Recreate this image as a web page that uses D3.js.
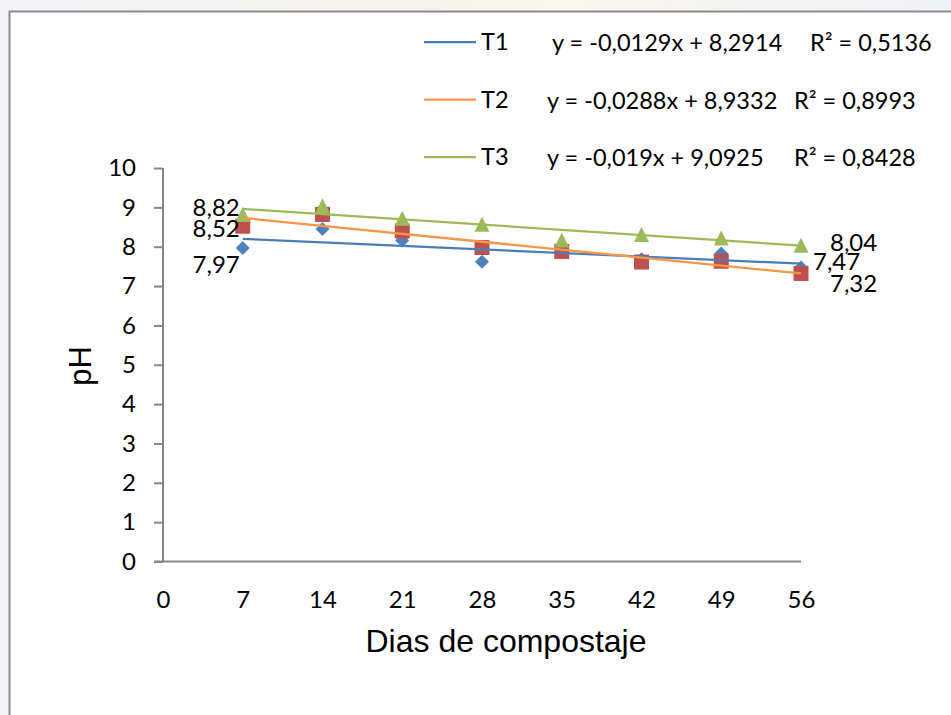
<!DOCTYPE html>
<html>
<head>
<meta charset="utf-8">
<script src="https://cdn.jsdelivr.net/npm/d3@7/dist/d3.min.js"></script>
<style>
  html, body { margin: 0; padding: 0; background: #ffffff; }
  svg { display: block; }
</style>
</head>
<body>
<svg id="chart" width="951" height="715"></svg>
<script>
// pH over the composting period for three treatments
const days = [7, 14, 21, 28, 35, 42, 49, 56];
const xTicks = [0, 7, 14, 21, 28, 35, 42, 49, 56];
const yTicks = [0, 1, 2, 3, 4, 5, 6, 7, 8, 9, 10];
const seriesNames = ["T1", "T2", "T3"];
const phT1 = [7.97, 8.45, 8.16, 7.62, 7.87, 7.68, 7.83, 7.47];
const phT2 = [8.52, 8.82, 8.40, 7.98, 7.88, 7.61, 7.63, 7.32];
const phT3 = [8.82, 9.04, 8.72, 8.57, 8.17, 8.31, 8.22, 8.04];
// linear trend fits (y = slope * x + intercept)
const slopes = [-0.0129, -0.0288, -0.019];
const intercepts = [8.2914, 8.9332, 9.0925];
const rSquared = [0.5136, 0.8993, 0.8428];
const xTitle = "Dias de compostaje";
const yTitle = "pH";

const seriesValues = [phT1, phT2, phT3];

// styling
const markerColors = ["#4F81BD", "#C0504D", "#9BBB59"];
const trendColors = ["#4A7EBB", "#F79646", "#9BBB59"];
const markerShapes = ["diamond", "square", "triangle"];
const tickFont = "Lato, 'Open Sans', sans-serif";
const titleFont = "'Liberation Sans', Arial, sans-serif";
const axisColor = "#878787";

// value labels: [series index, point index, dx, dy, anchor]
const valueLabels = [
  [2, 0, -3, 2, "end"],
  [1, 0, -3, 11, "end"],
  [0, 0, -3, 25, "end"],
  [2, 7, 29, 6, "start"],
  [0, 7, 12, 2.5, "start"],
  [1, 7, 29, 18.5, "start"]
];

const comma = s => String(s).replace(".", ",");
const fmt2 = v => d3.format(".2f")(v).replace(".", ",");

const svg = d3.select("#chart");

// page backdrop and chart frame
const defs = svg.append("defs");
const grad = defs.append("linearGradient").attr("id", "bg")
  .attr("x1", "0").attr("y1", "0").attr("x2", "1").attr("y2", "0");
grad.append("stop").attr("offset", "0").attr("stop-color", "#f1f5f8");
grad.append("stop").attr("offset", "0.45").attr("stop-color", "#f8f6ea");
grad.append("stop").attr("offset", "0.6").attr("stop-color", "#fbf8ec");
grad.append("stop").attr("offset", "1").attr("stop-color", "#eef3f7");
svg.append("rect").attr("width", 951).attr("height", 715).attr("fill", "url(#bg)");
svg.append("rect")
  .attr("x", 9.5).attr("y", 11.5)
  .attr("width", 960).attr("height", 720)
  .attr("fill", "#ffffff")
  .attr("stroke", "#8a8a8a").attr("stroke-width", 2);

// scales
const x = d3.scaleLinear().domain([0, 56]).range([163, 801]);
const y = d3.scaleLinear().domain([0, 10]).range([561.5, 168]);

// y axis
const yAxis = svg.append("g")
  .attr("transform", `translate(${x(0)},0)`)
  .call(d3.axisLeft(y).tickValues(yTicks).tickSize(9).tickPadding(18).tickFormat(d => d));
yAxis.select(".domain").attr("stroke", axisColor).attr("stroke-width", 2)
  .attr("d", `M0,${y(10)}V${y(0)}`);
yAxis.selectAll(".tick line").attr("stroke", axisColor).attr("stroke-width", 2);
yAxis.selectAll(".tick text")
  .attr("font-family", tickFont).attr("font-size", 24).attr("fill", "#000");

// x axis
const xAxis = svg.append("g")
  .attr("transform", `translate(0,${y(0)})`)
  .call(d3.axisBottom(x).tickValues(xTicks).tickSize(0).tickPadding(29).tickFormat(d => d));
xAxis.select(".domain").attr("stroke", axisColor).attr("stroke-width", 2)
  .attr("d", `M${x(0) - 9},0H${x(56)}`);
xAxis.selectAll(".tick text")
  .attr("font-family", tickFont).attr("font-size", 24).attr("fill", "#000");

// axis titles
svg.append("text")
  .attr("x", 506).attr("y", 652)
  .attr("text-anchor", "middle")
  .attr("font-family", titleFont).attr("font-size", 32).attr("fill", "#000")
  .text(xTitle);
svg.append("text")
  .attr("transform", "translate(91,366) rotate(-90)")
  .attr("text-anchor", "middle")
  .attr("font-family", titleFont).attr("font-size", 31).attr("fill", "#000")
  .text(yTitle);

// marker shapes
function markerPath(shape, cx, cy) {
  if (shape === "diamond") {
    const r = 7;
    return `M${cx},${cy - r}L${cx + r},${cy}L${cx},${cy + r}L${cx - r},${cy}Z`;
  }
  if (shape === "square") {
    const h = 7.5;
    return `M${cx - h},${cy - h}H${cx + h}V${cy + h}H${cx - h}Z`;
  }
  const h = 7.5;
  return `M${cx},${cy - h}L${cx + h},${cy + h}L${cx - h},${cy + h}Z`;
}

const marks = svg.append("g");
seriesValues.forEach((vals, s) => {
  marks.append("g").selectAll("path")
    .data(days.map((d, i) => [d, vals[i]]))
    .join("path")
    .attr("d", d => markerPath(markerShapes[s], x(d[0]), y(d[1])))
    .attr("fill", markerColors[s]);
});

// trend lines across the sampled range
const line = d3.line().x(d => x(d[0])).y(d => y(d[1]));
const x0 = d3.min(days), x1 = d3.max(days);
slopes.forEach((m, s) => {
  const b = intercepts[s];
  svg.append("path")
    .attr("d", line([[x0, m * x0 + b], [x1, m * x1 + b]]))
    .attr("fill", "none")
    .attr("stroke", trendColors[s])
    .attr("stroke-width", 2.25);
});

// value labels
svg.append("g").selectAll("text")
  .data(valueLabels)
  .join("text")
  .attr("x", d => x(days[d[1]]) + d[2])
  .attr("y", d => y(seriesValues[d[0]][d[1]]) + d[3])
  .attr("text-anchor", d => d[4])
  .attr("font-family", tickFont).attr("font-size", 24).attr("fill", "#000")
  .text(d => fmt2(seriesValues[d[0]][d[1]]));

// legend with trend equations
const legendLineY = [42, 99.5, 157];
const legendTextY = [50, 108, 165];
const eqX = [552, 547, 547];
const r2X = [810, 794, 794];
const legend = svg.append("g");
seriesNames.forEach((name, s) => {
  legend.append("line")
    .attr("x1", 424).attr("x2", 476)
    .attr("y1", legendLineY[s]).attr("y2", legendLineY[s])
    .attr("stroke", trendColors[s]).attr("stroke-width", 2.25);
  legend.append("text")
    .attr("x", 481).attr("y", legendTextY[s])
    .attr("font-family", tickFont).attr("font-size", 23.5).attr("fill", "#000")
    .text(name);
  const m = slopes[s], b = intercepts[s];
  legend.append("text")
    .attr("x", eqX[s]).attr("y", legendTextY[s] + 1)
    .attr("font-family", tickFont).attr("font-size", 23.5).attr("fill", "#000")
    .text(`y = ${comma(m)}x ${b < 0 ? "-" : "+"} ${comma(Math.abs(b))}`);
  legend.append("text")
    .attr("x", r2X[s]).attr("y", legendTextY[s] + 1)
    .attr("font-family", tickFont).attr("font-size", 23.5).attr("fill", "#000")
    .text(`R² = ${comma(rSquared[s])}`);
});
</script>
</body>
</html>
